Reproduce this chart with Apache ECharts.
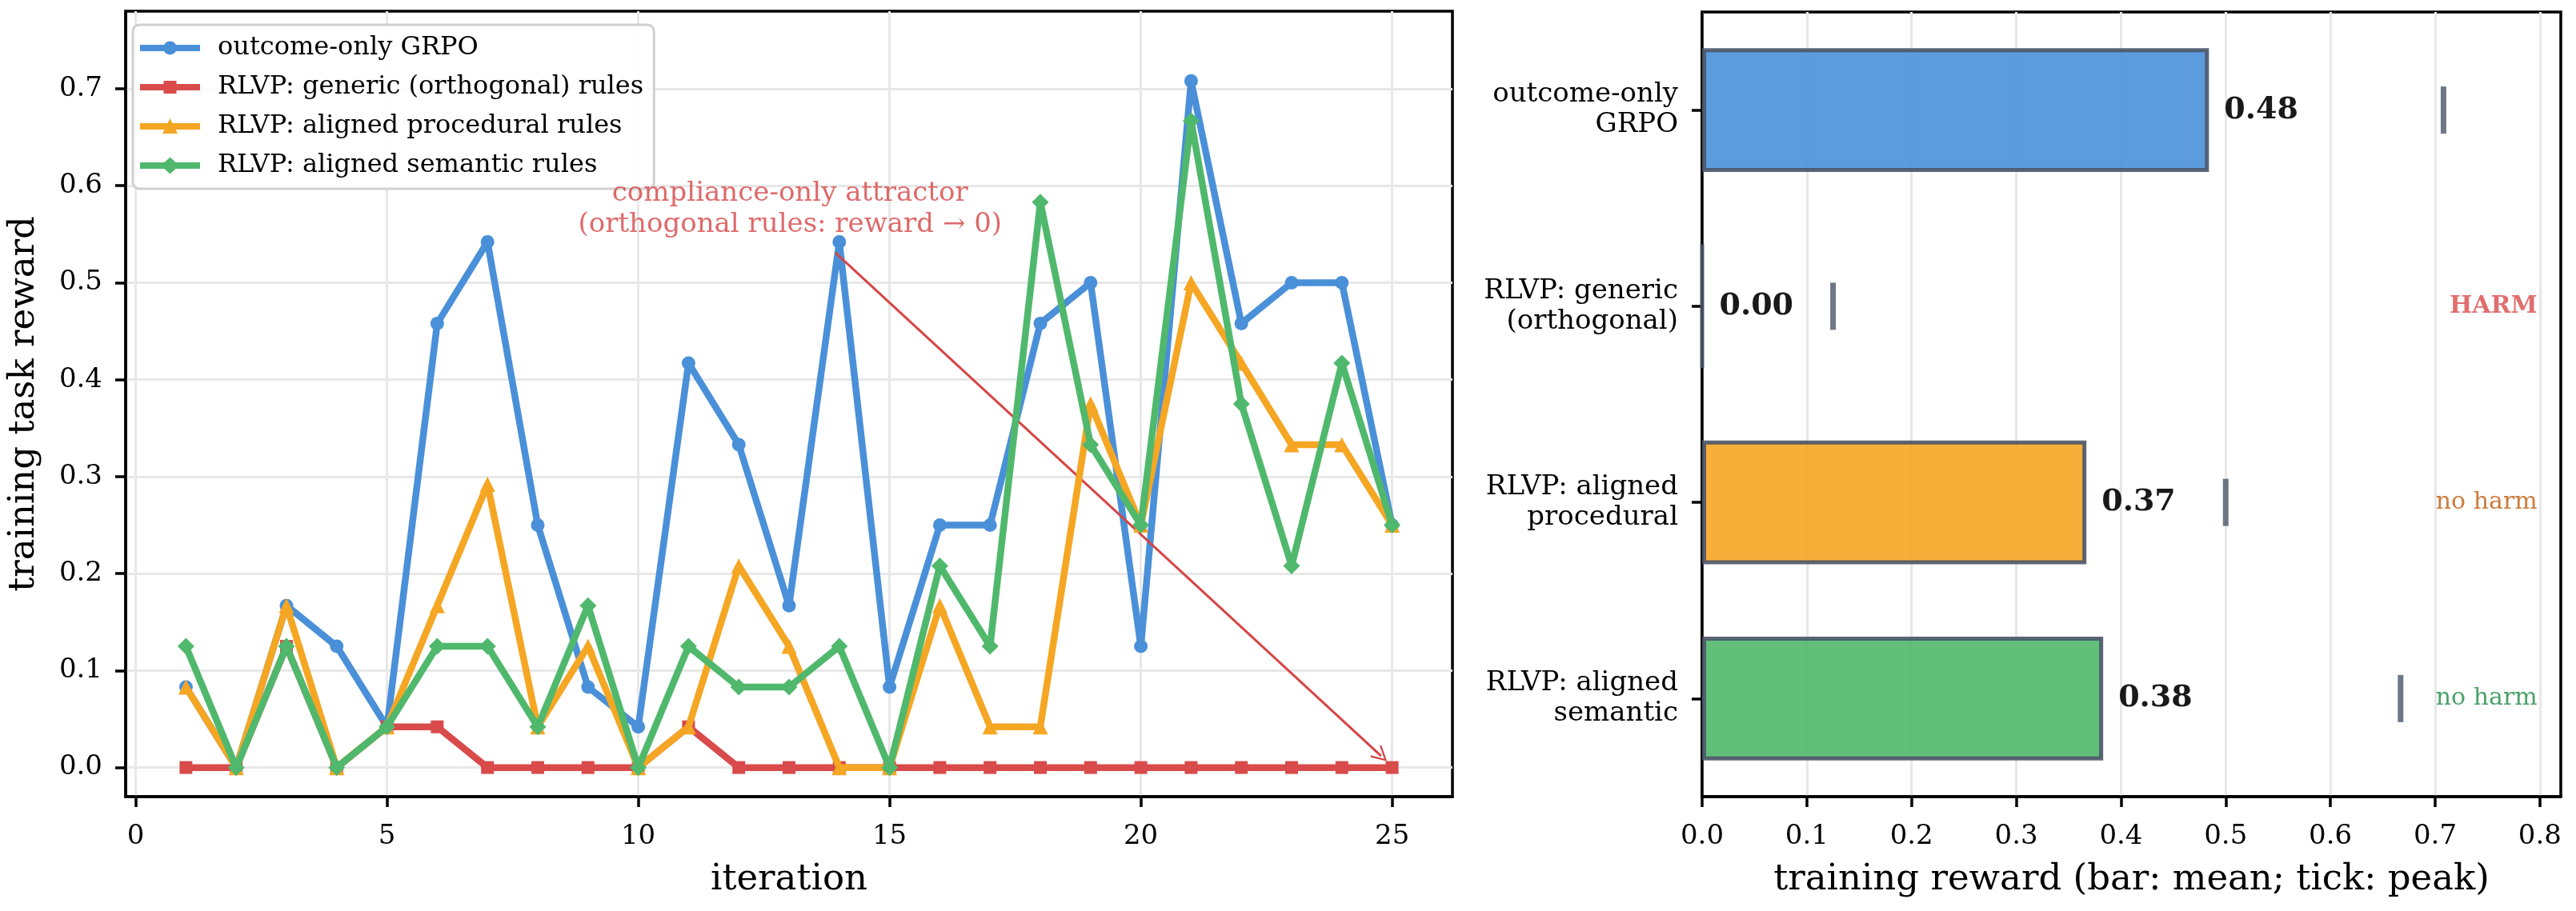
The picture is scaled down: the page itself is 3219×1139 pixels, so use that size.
<!DOCTYPE html>
<html>
<head>
<meta charset="utf-8">
<script src="https://cdn.jsdelivr.net/npm/echarts@6/dist/echarts.min.js"></script>
<style>
html,body{margin:0;padding:0;background:#fff;}
#chart{width:3219px;height:1139px;}
</style>
</head>
<body>
<div id="chart"></div>
<script>
// ---------- data ----------
const iterations = [1,2,3,4,5,6,7,8,9,10,11,12,13,14,15,16,17,18,19,20,21,22,23,24,25];
const outcomeOnly = [0.083,0,0.167,0.125,0.042,0.458,0.542,0.25,0.083,0.042,0.417,0.333,0.167,0.542,0.083,0.25,0.25,0.458,0.5,0.125,0.708,0.458,0.5,0.5,0.25];
const genericRules = [0,0,0.125,0,0.042,0.042,0,0,0,0,0.042,0,0,0,0,0,0,0,0,0,0,0,0,0,0];
const proceduralRules = [0.083,0,0.167,0,0.042,0.167,0.292,0.042,0.125,0,0.042,0.208,0.125,0,0,0.167,0.042,0.042,0.375,0.25,0.5,0.417,0.333,0.333,0.25];
const semanticRules = [0.125,0,0.125,0,0.042,0.125,0.125,0.042,0.167,0,0.125,0.083,0.083,0.125,0,0.208,0.125,0.583,0.333,0.25,0.667,0.375,0.208,0.417,0.25];
const seriesNames = ['outcome-only GRPO','RLVP: generic (orthogonal) rules','RLVP: aligned procedural rules','RLVP: aligned semantic rules'];

const xTicks = [0,5,10,15,20,25];
const yTicks = [0,0.1,0.2,0.3,0.4,0.5,0.6,0.7];

const barCategories = ['outcome-only\nGRPO','RLVP: generic\n(orthogonal)','RLVP: aligned\nprocedural','RLVP: aligned\nsemantic'];
const meanReward = [0.484, 0.0, 0.367, 0.383];
const peakReward = [0.708, 0.125, 0.5, 0.667];
const verdicts = ['', 'HARM', 'no harm', 'no harm'];
const barTicks = [0,0.1,0.2,0.3,0.4,0.5,0.6,0.7,0.8];

const annotationText = 'compliance-only attractor\n(orthogonal rules: reward \u2192 0)';
const annotationAt = [13.02, 0.576];
const arrowFrom = [13.92, 0.531];
const arrowTo = [24.78, 0.012];
const verdictX = 0.798;

// ---------- style ----------
const FONT = 'DejaVu Serif';
const colors = ['#4a90d9','#d94a4a','#f5a623','#50b86c'];
const symbols = ['circle','rect','triangle','diamond'];
const symbolSizes = [17,16,19,21];
const verdictColors = ['#000','#d94a4a','#c05a0c','#1e8a45'];
const verdictWeights = ['normal','bold','normal','normal'];
const GRID = '#e8e8e8';

// legend icons: line + marker in a 92 x 21 box (line 75 wide, blank gap after it);
// zero-length moves pin the bounding box
const pin = 'M0,0 L0,0 Z M92,21 L92,21 Z ';
const lineBar = 'M0,6.5 L75,6.5 L75,14.5 L0,14.5 Z ';
const legendIcons = [
  'path://' + pin + lineBar + 'M29,10.5 A8.5,8.5 0 1,1 46,10.5 A8.5,8.5 0 1,1 29,10.5 Z',
  'path://' + pin + lineBar + 'M29.5,2.5 L45.5,2.5 L45.5,18.5 L29.5,18.5 Z',
  'path://' + pin + lineBar + 'M37.5,0.5 L47,19.5 L28,19.5 Z',
  'path://' + pin + lineBar + 'M37.5,0 L49,10.5 L37.5,21 L26,10.5 Z'
];

const chart = echarts.init(document.getElementById('chart'), null, {renderer:'canvas'});

const lineData = [outcomeOnly, genericRules, proceduralRules, semanticRules];
const lineSeries = lineData.map((vals, i) => ({
  name: seriesNames[i],
  type: 'line',
  xAxisIndex: 0, yAxisIndex: 0,
  data: iterations.map((it, k) => [it, vals[k]]),
  symbol: symbols[i],
  symbolSize: symbolSizes[i],
  showAllSymbol: true,
  lineStyle: {color: colors[i], width: 8.5},
  itemStyle: {color: colors[i]},
  emphasis: {disabled: true},
  animation: false,
  z: 3 + i
}));

const axisCommon = {
  axisLine: {show: true, onZero: false, lineStyle: {color: '#000', width: 3.5}},
  axisTick: {show: true, length: 13, lineStyle: {color: '#000', width: 3.5}},
  axisLabel: {color: '#000', fontFamily: FONT, fontSize: 34},
  nameTextStyle: {color: '#000', fontFamily: FONT, fontSize: 45},
};

const option = {
  backgroundColor: '#fff',
  animation: false,
  textStyle: {fontFamily: FONT},
  grid: [
    {left: 150, top: 14, width: 1665, height: 982, show: true, borderColor: '#000', borderWidth: 3.5, backgroundColor: 'transparent'},
    {left: 2127, top: 15, width: 1073, height: 981, show: true, borderColor: '#000', borderWidth: 3.5, backgroundColor: 'transparent'}
  ],
  legend: {
    data: seriesNames.map((n, i) => ({name: n, icon: legendIcons[i], itemStyle: {color: colors[i]}})),
    orient: 'vertical',
    left: 166, top: 31,
    padding: [13, 13, 13, 9],
    itemWidth: 92, itemHeight: 21, itemGap: 17,
    symbolKeepAspect: true,
    backgroundColor: 'rgba(255,255,255,0.85)',
    borderColor: '#d0d0d0', borderWidth: 3, borderRadius: 8,
    textStyle: {fontFamily: FONT, fontSize: 32, lineHeight: 32, color: '#000'},
    selectedMode: false
  },
  xAxis: [
    Object.assign({}, axisCommon, {
      type: 'value', gridIndex: 0, min: -0.2, max: 26.2,
      name: 'iteration', nameLocation: 'middle', nameGap: 82,
      axisTick: Object.assign({}, axisCommon.axisTick, {customValues: xTicks}),
      axisLabel: Object.assign({}, axisCommon.axisLabel, {margin: 33, customValues: xTicks}),
      splitLine: {show: true, lineStyle: {color: GRID, width: 3}}
    }),
    Object.assign({}, axisCommon, {
      type: 'value', gridIndex: 1, min: 0, max: 0.82,
      name: 'training reward (bar: mean; tick: peak)', nameLocation: 'middle', nameGap: 82,
      axisTick: Object.assign({}, axisCommon.axisTick, {customValues: barTicks}),
      axisLabel: Object.assign({}, axisCommon.axisLabel, {margin: 33, customValues: barTicks, formatter: v => v.toFixed(1)}),
      splitLine: {show: true, lineStyle: {color: GRID, width: 3}}
    })
  ],
  yAxis: [
    Object.assign({}, axisCommon, {
      type: 'value', gridIndex: 0, min: -0.03, max: 0.78,
      name: 'training task reward', nameLocation: 'middle', nameGap: 104,
      axisTick: Object.assign({}, axisCommon.axisTick, {customValues: yTicks}),
      axisLabel: Object.assign({}, axisCommon.axisLabel, {margin: 29, customValues: yTicks, formatter: v => v.toFixed(1)}),
      splitLine: {show: true, lineStyle: {color: GRID, width: 3}}
    }),
    Object.assign({}, axisCommon, {
      type: 'category', gridIndex: 1, data: barCategories, inverse: true,
      axisTick: Object.assign({}, axisCommon.axisTick, {alignWithLabel: true}),
      axisLabel: Object.assign({}, axisCommon.axisLabel, {margin: 30, align: 'right', lineHeight: 38}),
      splitLine: {show: false}
    })
  ],
  series: lineSeries.concat([
    {
      type: 'scatter', xAxisIndex: 0, yAxisIndex: 0,
      data: [annotationAt],
      symbolSize: 1, itemStyle: {color: 'rgba(0,0,0,0)'},
      silent: true, z: 10,
      label: {show: true, position: 'inside', formatter: annotationText, color: '#d64545',
        fontFamily: FONT, fontSize: 34, lineHeight: 39, align: 'center'},
      markLine: {
        silent: true, animation: false,
        symbol: ['none', 'path://M10,0 L20,18 L18.2,19.5 L10,4.5 L1.8,19.5 L0,18 Z'],
        symbolSize: [20, 20],
        lineStyle: {color: '#d64545', width: 3, type: 'solid'},
        label: {show: false},
        data: [[{coord: arrowFrom}, {coord: arrowTo}]]
      }
    },
    {
      type: 'bar', xAxisIndex: 1, yAxisIndex: 1,
      data: meanReward.map((v, i) => ({value: v, itemStyle: {color: colors[i]}})),
      barWidth: '63%',
      itemStyle: {opacity: 0.9, borderColor: '#4a5568', borderWidth: 5},
      label: {show: true, position: 'right', distance: 19, formatter: p => p.value.toFixed(2),
        fontFamily: FONT, fontSize: 38, fontWeight: 'bold', color: '#000'},
      emphasis: {disabled: true},
      z: 2
    },
    {
      type: 'scatter', xAxisIndex: 1, yAxisIndex: 1,
      data: peakReward.map((v, i) => [v, i]),
      symbol: 'rect', symbolSize: [7, 59],
      itemStyle: {color: '#4a5568'},
      emphasis: {disabled: true}, silent: true, z: 4
    },
    {
      type: 'scatter', xAxisIndex: 1, yAxisIndex: 1,
      data: verdicts.map((t, i) => ({value: [verdictX, i],
        label: {color: verdictColors[i], fontWeight: verdictWeights[i]}})),
      symbolSize: 1, itemStyle: {color: 'rgba(0,0,0,0)'},
      silent: true, z: 5,
      label: {show: true, position: 'left', distance: 0, formatter: p => verdicts[p.dataIndex],
        fontFamily: FONT, fontSize: 30}
    }
  ])
};

chart.setOption(option);
</script>
</body>
</html>
